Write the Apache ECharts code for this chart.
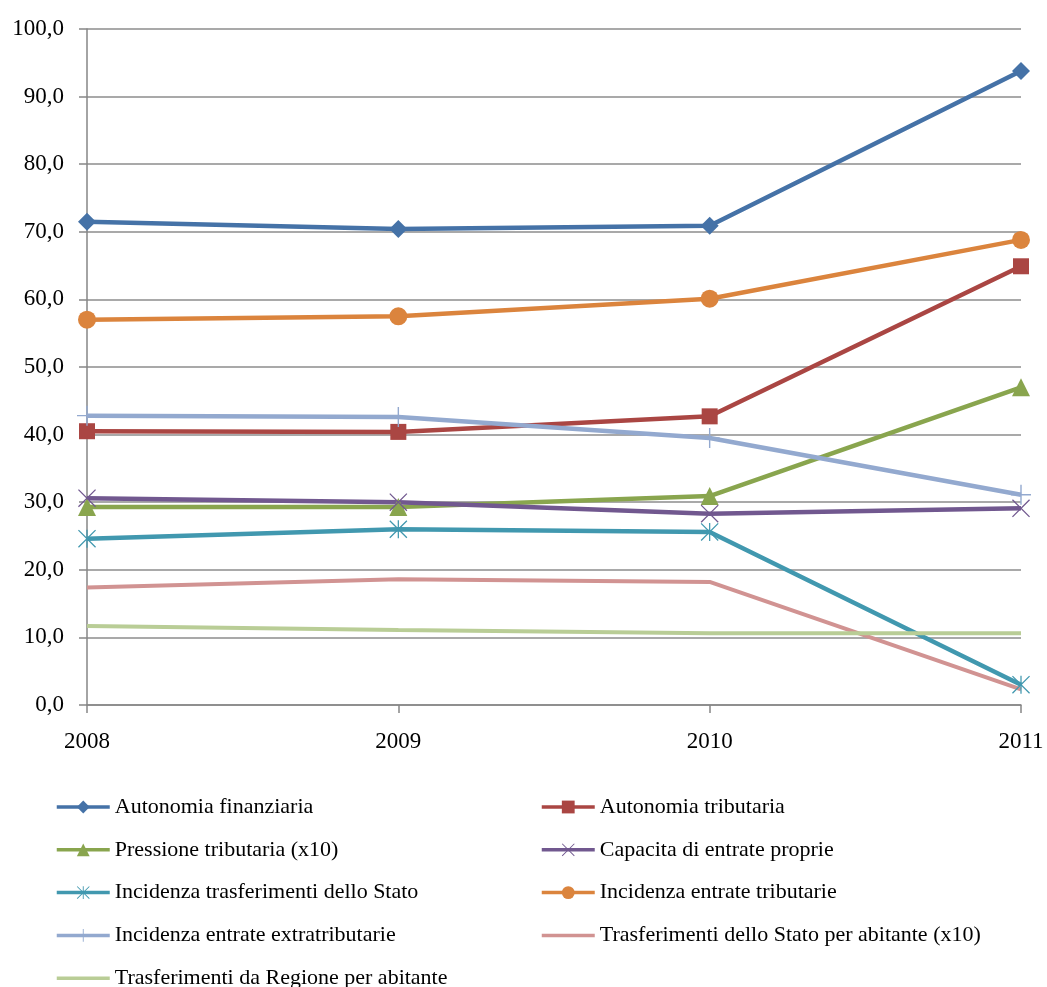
<!DOCTYPE html>
<html>
<head>
<meta charset="utf-8">
<script src="https://cdn.jsdelivr.net/npm/echarts@6/dist/echarts.min.js"></script>
<style>html,body{margin:0;padding:0;background:#fff}#c{width:1047px;height:987px}</style>
</head>
<body>
<div id="c"></div>
<script>
var years = ['2008', '2009', '2010', '2011'];
var autonomiaFinanziaria = [71.5, 70.4, 70.9, 93.8];
var autonomiaTributaria = [40.5, 40.4, 42.7, 64.9];
var pressioneTributaria = [29.3, 29.3, 30.9, 47.0];
var capacitaEntrate = [30.6, 30.0, 28.3, 29.1];
var incidenzaTrasfStato = [24.6, 26.0, 25.6, 3.0];
var incidenzaTributarie = [57.0, 57.5, 60.1, 68.8];
var incidenzaExtratributarie = [42.8, 42.6, 39.5, 31.1];
var trasfStatoAbitante = [17.4, 18.6, 18.2, 2.3];
var trasfRegioneAbitante = [11.7, 11.1, 10.6, 10.6];
var names = [
  'Autonomia finanziaria', 'Autonomia tributaria', 'Pressione tributaria (x10)',
  'Capacita di entrate proprie', 'Incidenza trasferimenti dello Stato', 'Incidenza entrate tributarie',
  'Incidenza entrate extratributarie', 'Trasferimenti dello Stato per abitante (x10)',
  'Trasferimenti da Regione per abitante'
];
var yTicks = [0, 10, 20, 30, 40, 50, 60, 70, 80, 90, 100];

var PLUS = 'path://M-0.7,-10L0.7,-10L0.7,10L-0.7,10Z M-10,-0.7L10,-0.7L10,0.7L-10,0.7Z';
var CROSS = 'path://M-10,-9L-9,-10L10,9L9,10Z M9,-10L10,-9L-9,10L-10,9Z';
var STAR = 'path://M-10,-9L-9,-10L10,9L9,10Z M9,-10L10,-9L-9,10L-10,9Z M-0.7,-10L0.7,-10L0.7,10L-0.7,10Z';

var font = 'Liberation Serif';
var chart = echarts.init(document.getElementById('c'));

function mk(name, data, color, symbol, size, width) {
  var noMark = symbol === 'none';
  return {
    name: name, type: 'line', data: data,
    symbol: noMark ? 'rect' : symbol, symbolSize: noMark ? 1 : size, showSymbol: !noMark,
    lineStyle: { color: color, width: width },
    itemStyle: { color: color, opacity: noMark ? 0 : 1 },
    emphasis: { disabled: true },
    animation: false
  };
}

var series = [
  mk(names[0], autonomiaFinanziaria, '#4572A7', 'diamond', 18, 4.5),
  mk(names[1], autonomiaTributaria, '#AA4643', 'rect', 16, 4.5),
  mk(names[2], pressioneTributaria, '#89A54E', 'triangle', 18, 4.5),
  mk(names[3], capacitaEntrate, '#71588F', CROSS, 18, 4.5),
  mk(names[4], incidenzaTrasfStato, '#4198AF', STAR, 18, 4.5),
  mk(names[5], incidenzaTributarie, '#DB843D', 'circle', 18, 4.5),
  mk(names[6], incidenzaExtratributarie, '#93A9CF', PLUS, 20, 4.5),
  mk(names[7], trasfStatoAbitante, '#D19392', 'none', 0, 4),
  mk(names[8], trasfRegioneAbitante, '#B9CD96', 'none', 0, 4)
];

var legendText = { fontFamily: font, fontSize: 22, color: '#000' };
var legends = names.map(function (n, i) {
  var col = i % 2, row = Math.floor(i / 2);
  return {
    orient: 'horizontal', left: col === 0 ? 50 : 535, top: 791 + row * 42.8,
    itemWidth: 53, itemHeight: 16, itemGap: 5,
    textStyle: legendText, data: [n], selectedMode: false,
    lineStyle: { width: 3.5 }
  };
});

chart.setOption({
  backgroundColor: '#fff',
  animation: false,
  grid: { left: 87, right: 26, top: 29, bottom: 282, containLabel: false },
  xAxis: {
    type: 'category', data: years, boundaryGap: false,
    axisLine: { lineStyle: { color: '#868686', width: 1.5 } },
    axisTick: { show: true, alignWithLabel: true, length: 8, lineStyle: { color: '#868686', width: 1.5 } },
    axisLabel: { fontFamily: font, fontSize: 23, color: '#000', margin: 25 },
    splitLine: { show: false }
  },
  yAxis: {
    type: 'value', min: yTicks[0], max: yTicks[yTicks.length - 1], interval: 10,
    axisLine: { show: true, lineStyle: { color: '#868686', width: 1.5 } },
    axisTick: { show: true, length: 8, lineStyle: { color: '#868686', width: 1.5 } },
    axisLabel: {
      fontFamily: font, fontSize: 23, color: '#000', margin: 23,
      formatter: function (v) { return v.toFixed(1).replace('.', ','); }
    },
    splitLine: { show: true, lineStyle: { color: '#8c8c8c', width: 1.5 } }
  },
  legend: legends,
  series: series
});
</script>
</body>
</html>
